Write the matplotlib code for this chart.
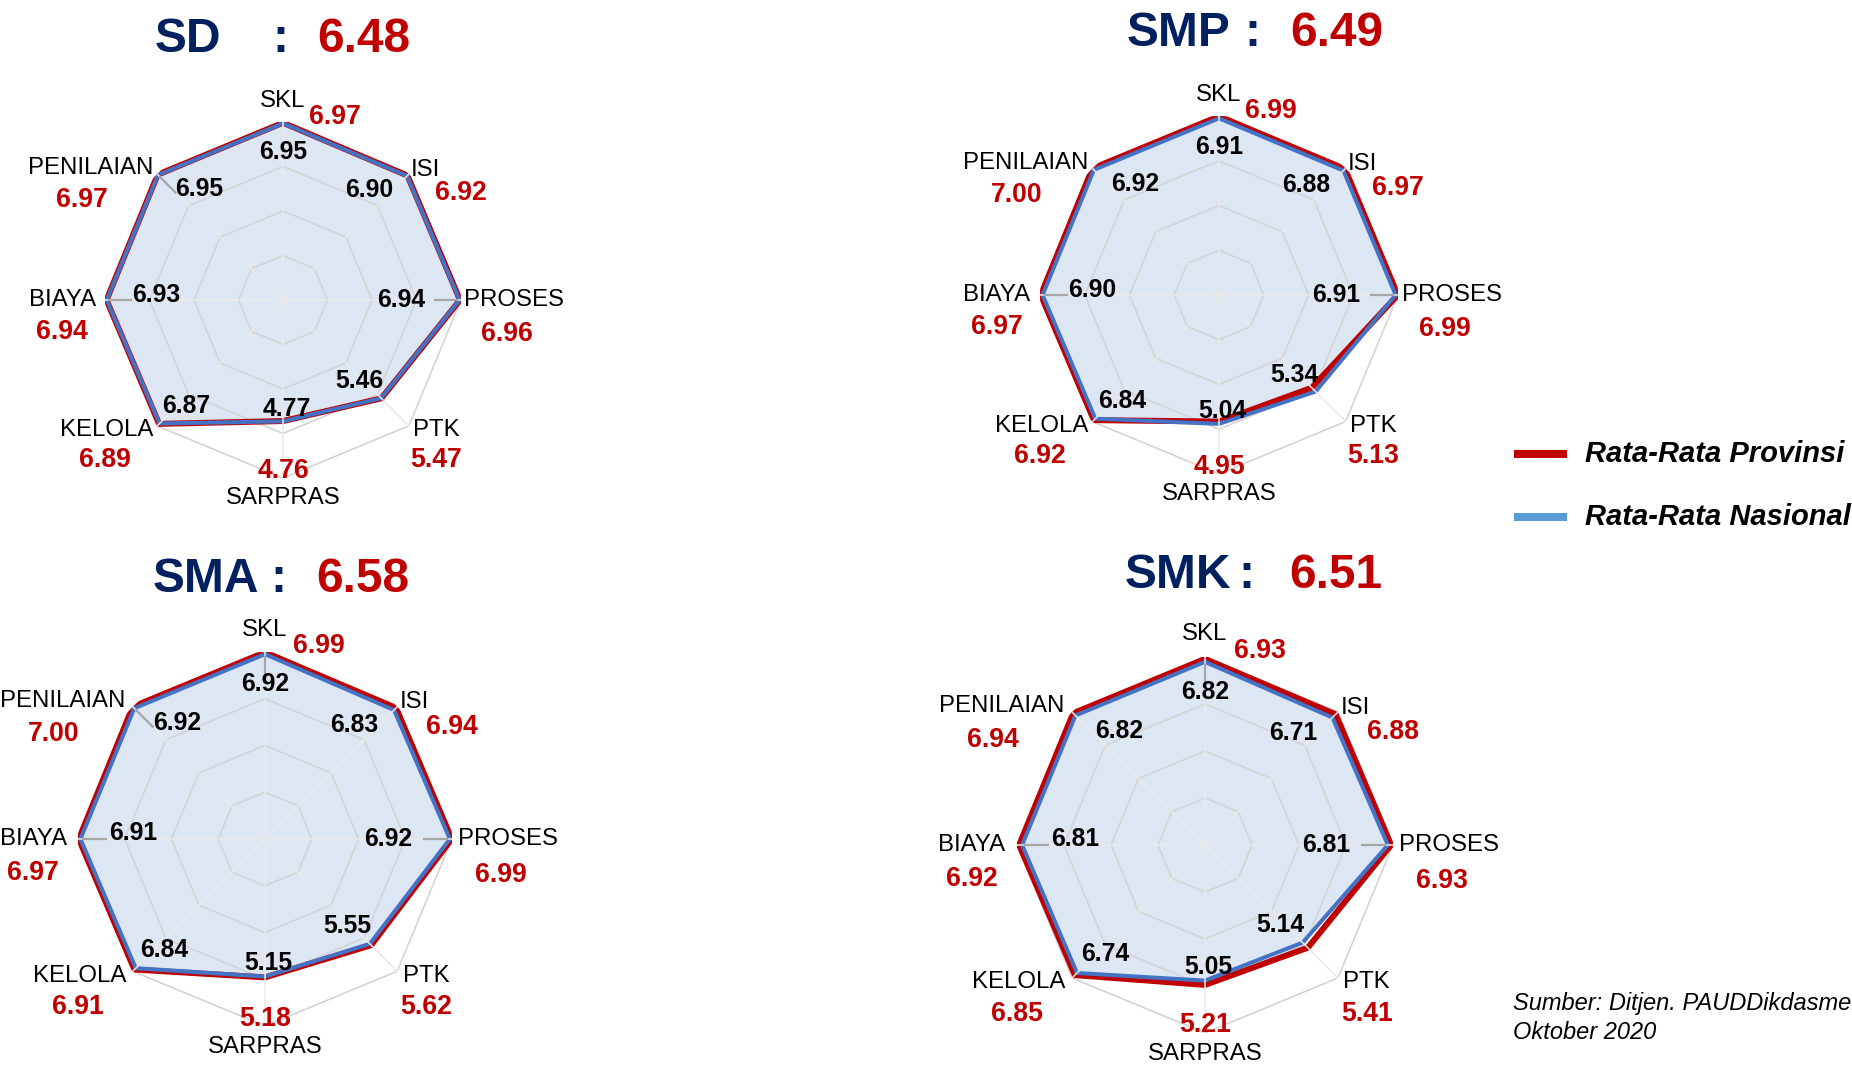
import numpy as np
import matplotlib
matplotlib.use("Agg")
import matplotlib.pyplot as plt

plt.rcParams['font.family'] = ['Liberation Sans', 'DejaVu Sans']

# ---------------- data ----------------
categories = ["SKL", "ISI", "PROSES", "PTK", "SARPRAS", "KELOLA", "BIAYA", "PENILAIAN"]
levels = ["SD", "SMP", "SMA", "SMK"]
overall = ["6.48", "6.49", "6.58", "6.51"]

sd_prov = [6.97, 6.92, 6.96, 5.47, 4.76, 6.89, 6.94, 6.97]
sd_nas = [6.95, 6.90, 6.94, 5.46, 4.77, 6.87, 6.93, 6.95]
smp_prov = [6.99, 6.97, 6.99, 5.13, 4.95, 6.92, 6.97, 7.00]
smp_nas = [6.91, 6.88, 6.91, 5.34, 5.04, 6.84, 6.90, 6.92]
sma_prov = [6.99, 6.94, 6.99, 5.62, 5.18, 6.91, 6.97, 7.00]
sma_nas = [6.92, 6.83, 6.92, 5.55, 5.15, 6.84, 6.91, 6.92]
smk_prov = [6.93, 6.88, 6.93, 5.41, 5.21, 6.85, 6.92, 6.94]
smk_nas = [6.82, 6.71, 6.81, 5.14, 5.05, 6.74, 6.81, 6.82]

prov_series = [sd_prov, smp_prov, sma_prov, smk_prov]
nas_series = [sd_nas, smp_nas, sma_nas, smk_nas]

legend_labels = ["Rata-Rata Provinsi", "Rata-Rata Nasional"]
source_text = "Sumber: Ditjen. PAUDDikdasmen,\nOktober 2020"

# ---------------- style ----------------
W, H = 1852, 1071
NAVY = "#002060"
RED = "#c00000"
BLUE_LINE = "#4472c4"
BLUE_LEG = "#5b9bd5"
FILL = "#dde7f4"
RMAX = 7.0
RINGS = [1.75, 3.5, 5.25, 7.0]

# layout (pixel centres / radii of each radar, title positions)
centers = [(283, 300, 178), (1219, 295, 179), (265, 839, 187), (1205, 845, 188)]
title_pos = [  # (name_x, colon_x, value_x, y)
    (155, 280, 317, 40),
    (1127, 1252, 1290, 34),
    (153, 278, 316, 579),
    (1125, 1246, 1289, 576),
]
# label positions in radius units
cat_pos = [(0, 1.12), (0.80, 0.73), (1.30, 0.0), (0.86, -0.73), (0, -1.11),
           (-0.99, -0.73), (-1.24, 0.0), (-1.08, 0.74)]
red_pos = [(0.29, 1.03), (1.00, 0.60), (1.26, -0.19), (0.86, -0.90), (0, -0.96),
           (-1.00, -0.90), (-1.24, -0.18), (-1.13, 0.56)]
black_off = [(0, -0.16), (-0.21, -0.08), (-0.33, 0.0), (-0.12, 0.095), (0.02, 0.07),
             (0.15, 0.10), (0.28, 0.03), (0.23, -0.08)]
leaders = [[2, 6, 7], [2, 6], [0, 2, 6, 7], [0, 2, 6]]

fig = plt.figure(figsize=(W / 100, H / 100), dpi=100)
fig.patch.set_facecolor("white")

n = len(categories)
theta = np.arange(n) * 2 * np.pi / n
theta_c = np.append(theta, theta[0])

for k in range(4):
    cx, cy, R = centers[k]
    ax = fig.add_axes([(cx - R) / W, (H - cy - R) / H, 2 * R / W, 2 * R / H],
                      projection="polar")
    ax.set_theta_zero_location("N")
    ax.set_theta_direction(-1)
    ax.set_ylim(0, RMAX)
    ax.grid(False)
    ax.set_xticks([])
    ax.set_yticks([])
    ax.spines["polar"].set_visible(False)
    ax.patch.set_alpha(0)

    prov = prov_series[k]
    nas = nas_series[k]
    prov_c = np.append(prov, prov[0])
    nas_c = np.append(nas, nas[0])

    ax.fill(theta_c, nas_c, color=FILL, zorder=1)
    for r in RINGS:
        ax.plot(theta_c, [r] * (n + 1), color="#d4d4d4", lw=1.2, zorder=2)
    ax.plot(theta_c, prov_c, color=RED, lw=4.3, zorder=3, solid_joinstyle="miter")
    ax.plot(theta_c, nas_c, color=BLUE_LINE, lw=2.9, zorder=4, solid_joinstyle="miter")
    for t in theta:
        ax.plot([t, t], [0, RMAX], color="#e9e9e9", lw=1.1, zorder=5)

    # leader lines
    for i in leaders[k]:
        v = nas[i]
        ax.plot([theta[i], theta[i]], [v * 0.86, v * 0.985], color="#a6a6a6",
                lw=1.6, zorder=6)

    def to_ax(x, y):
        return 0.5 + 0.5 * x, 0.5 + 0.5 * y

    for i, cat in enumerate(categories):
        x, y = cat_pos[i]
        ax.text(*to_ax(x, y), cat, transform=ax.transAxes, ha="center", va="center",
                fontsize=17.3, color="black", clip_on=False, zorder=10)
        x, y = red_pos[i]
        ax.text(*to_ax(x, y), f"{prov[i]:.2f}", transform=ax.transAxes, ha="center",
                va="center", fontsize=19.2, fontweight="bold", color=RED, clip_on=False,
                zorder=10)
        rr = nas[i] / RMAX
        vx, vy = rr * np.sin(theta[i]), rr * np.cos(theta[i])
        ox, oy = black_off[i]
        ax.text(*to_ax(vx + ox, vy + oy), f"{nas[i]:.2f}", transform=ax.transAxes,
                ha="center", va="center", fontsize=17.8, fontweight="bold",
                color="black", clip_on=False, zorder=10)

    nx, colx, vx_, ty = title_pos[k]
    fig.text(nx / W, 1 - ty / H, levels[k], ha="left", va="center", fontsize=34.5,
             fontweight="bold", color=NAVY)
    fig.text(colx / W, 1 - ty / H, ":", ha="center", va="center", fontsize=34.5,
             fontweight="bold", color=NAVY)
    fig.text(vx_ / W, 1 - ty / H, overall[k], ha="left", va="center", fontsize=34.5,
             fontweight="bold", color=RED)

# legend
lax = fig.add_axes([0, 0, 1, 1], facecolor="none")
lax.set_xlim(0, W)
lax.set_ylim(H, 0)
lax.axis("off")
for (lab, col, y) in [(legend_labels[0], RED, 454), (legend_labels[1], BLUE_LEG, 517)]:
    lax.plot([1514, 1567], [y, y], color=col, lw=5.8, solid_capstyle="butt")
    lax.text(1585, y, lab, ha="left", va="center", fontsize=21, fontweight="bold",
             fontstyle="italic", color="black")

lax.text(1513, 1018, source_text, ha="left", va="center", fontsize=17,
         fontstyle="italic", color="black", linespacing=1.3)

fig.savefig("out.png", dpi=100, facecolor="white")
